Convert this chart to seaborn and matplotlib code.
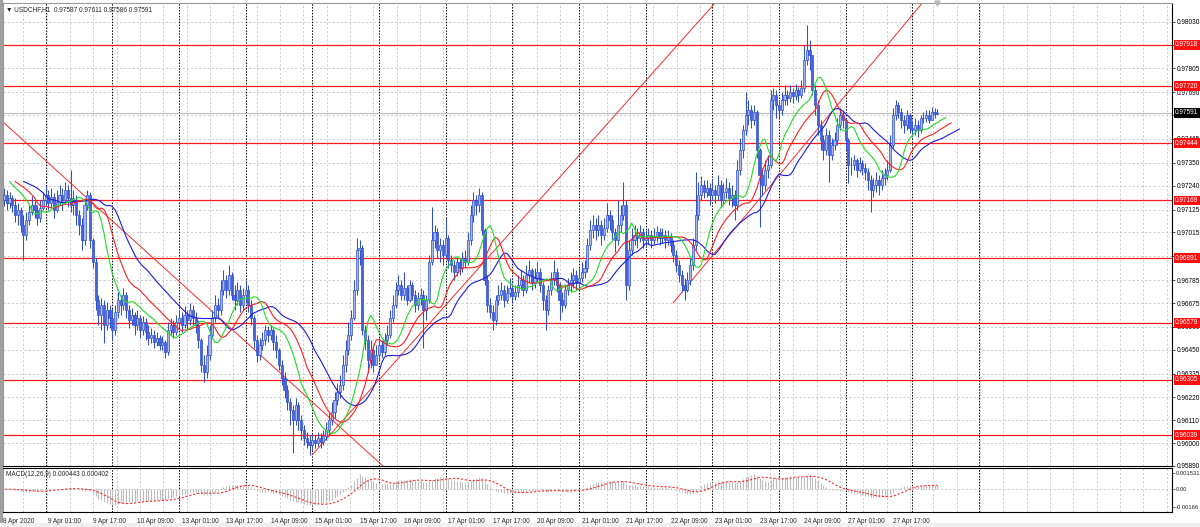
import numpy as np
import pandas as pd
import matplotlib
matplotlib.use("Agg")
import matplotlib.pyplot as plt
import matplotlib.transforms as mtransforms
from matplotlib.patches import Rectangle
import seaborn as sns

# ---------------- data (USDCHF H1, prices in 1e-5 units) ----------------
first_open = 97292
closes = [
    97171, 97195, 97157, 97181, 97147, 97099, 97123, 97051, 97003, 97075,
    97114, 97147, 97123, 97085, 97133, 97171, 97195, 97157, 97186, 97123,
    97162, 97195, 97171, 97220, 97181, 97147, 97171, 97099, 97051, 96979,
    97147, 97195, 96979, 96873, 96690, 96617, 96665, 96569, 96641, 96603,
    96545, 96632, 96690, 96665, 96714, 96641, 96593, 96617, 96569, 96603,
    96545, 96584, 96535, 96507, 96521, 96487, 96507, 96473, 96487, 96439,
    96545, 96569, 96535, 96584, 96603, 96569, 96617, 96593, 96641, 96603,
    96569, 96497, 96376, 96343, 96425, 96521, 96603, 96665, 96641, 96738,
    96786, 96738, 96810, 96714, 96690, 96738, 96665, 96714, 96738, 96665,
    96603, 96497, 96425, 96473, 96497, 96545, 96521, 96545, 96487, 96449,
    96376, 96314, 96256, 96198, 96161, 96111, 96184, 96111, 96063, 96025,
    96006, 95991, 96015, 96001, 96025, 96006, 96034, 96063, 96111, 96150,
    96208, 96246, 96280, 96376, 96449, 96521, 96603, 96738, 96930, 96940,
    96545, 96497, 96400, 96449, 96376, 96425, 96473, 96439, 96497, 96521,
    96603, 96665, 96738, 96762, 96714, 96747, 96690, 96762, 96714, 96665,
    96699, 96714, 96641, 96690, 96873, 96979, 97017, 96930, 96955, 96906,
    96988, 96882, 96858, 96825, 96873, 96844, 96892, 96873, 96979, 97099,
    97171, 97147, 97195, 97027, 96786, 96665, 96632, 96593, 96690, 96714,
    96738, 96690, 96723, 96747, 96709, 96728, 96762, 96786, 96738, 96810,
    96834, 96772, 96796, 96825, 96762, 96690, 96641, 96738, 96786, 96825,
    96762, 96690, 96665, 96738, 96762, 96786, 96810, 96772, 96796, 96825,
    96844, 96955, 97027, 97051, 97027, 97051, 97003, 97036, 97099, 97075,
    97017, 96979, 97051, 97099, 97147, 96762, 96930, 96979, 97003, 96988,
    97017, 96979, 96988, 97003, 96979, 96998, 97017, 96988, 97003, 96979,
    96993, 96955, 96906, 96858, 96810, 96762, 96738, 96786, 96858, 96955,
    97099, 97195, 97244, 97210, 97229, 97195, 97220, 97195, 97244, 97171,
    97210, 97229, 97181, 97195, 97147, 97316, 97412, 97509, 97581, 97605,
    97557, 97595, 97412, 97292, 97244, 97316, 97340, 97653, 97677, 97629,
    97605, 97653, 97677, 97663, 97692, 97672, 97701, 97677, 97711, 97846,
    97894, 97870, 97701, 97629, 97533, 97460, 97412, 97485, 97388, 97436,
    97460, 97533, 97581, 97557, 97460, 97340, 97340, 97364, 97316, 97350,
    97326, 97306, 97268, 97220, 97244, 97268, 97244, 97277, 97292, 97316,
    97436, 97581, 97629, 97595, 97557, 97533, 97581, 97518, 97509, 97533,
    97509, 97566, 97566, 97581, 97557, 97595, 97587, 97591,
]
highs = [
    97422, 97229, 97220, 97210, 97195, 97181, 97157, 97138, 97099, 97114,
    97147, 97191, 97171, 97147, 97171, 97210, 97239, 97220, 97229, 97205,
    97220, 97244, 97229, 97258, 97244, 97316, 97220, 97195, 97123, 97085,
    97181, 97220, 97210, 96988, 96892, 96714, 96699, 96690, 96680, 96665,
    96651, 96665, 96728, 96714, 96747, 96728, 96665, 96651, 96632, 96641,
    96617, 96613, 96603, 96569, 96555, 96545, 96535, 96521, 96516, 96497,
    96584, 96603, 96593, 96617, 96641, 96632, 96661, 96641, 96675, 96665,
    96632, 96593, 96507, 96425, 96473, 96569, 96641, 96714, 96699, 96786,
    96834, 96810, 96858, 96825, 96762, 96776, 96762, 96747, 96786, 96762,
    96690, 96617, 96521, 96507, 96535, 96569, 96564, 96569, 96555, 96521,
    96458, 96400, 96343, 96280, 96217, 96184, 96217, 96198, 96136, 96087,
    96054, 96039, 96044, 96039, 96054, 96049, 96063, 96102, 96150, 96198,
    96246, 96290, 96328, 96425, 96497, 96584, 96641, 96786, 96988, 96979,
    96955, 96569, 96521, 96497, 96473, 96473, 96507, 96497, 96531, 96569,
    96641, 96714, 96776, 96810, 96786, 96825, 96762, 96786, 96776, 96738,
    96728, 96747, 96738, 96714, 96906, 97138, 97051, 97036, 96988, 96979,
    97085, 97003, 96906, 96882, 96892, 96892, 96921, 96930, 97017, 97147,
    97210, 97195, 97229, 97210, 97036, 96810, 96699, 96665, 96714, 96762,
    96776, 96762, 96762, 96796, 96772, 96762, 96810, 96834, 96810, 96858,
    96882, 96844, 96844, 96873, 96844, 96776, 96714, 96762, 96825, 96882,
    96844, 96776, 96728, 96762, 96796, 96825, 96844, 96834, 96844, 96873,
    96882, 96988, 97075, 97099, 97085, 97099, 97075, 97085, 97157, 97123,
    97099, 97036, 97171, 97147, 97258, 97171, 96979, 97036, 97051, 97036,
    97051, 97036, 97027, 97036, 97027, 97036, 97046, 97036, 97036, 97027,
    97027, 97012, 96979, 96930, 96882, 96834, 96796, 96825, 96892, 96988,
    97306, 97258, 97287, 97268, 97268, 97253, 97268, 97244, 97292, 97268,
    97253, 97277, 97258, 97244, 97220, 97364, 97470, 97533, 97692, 97653,
    97629, 97629, 97605, 97422, 97326, 97364, 97388, 97701, 97711, 97701,
    97653, 97692, 97725, 97701, 97725, 97711, 97730, 97716, 97750, 97918,
    98015, 97942, 97870, 97725, 97653, 97557, 97485, 97518, 97509, 97470,
    97499, 97566, 97615, 97605, 97566, 97470, 97379, 97388, 97374, 97379,
    97364, 97350, 97326, 97292, 97277, 97306, 97292, 97316, 97326, 97364,
    97485, 97615, 97653, 97644, 97615, 97581, 97605, 97591, 97557, 97566,
    97557, 97581, 97595, 97605, 97605, 97620, 97615, 97611,
]
lows = [
    97099, 97143, 97123, 97133, 97114, 97066, 97051, 97017, 96882, 96979,
    97051, 97099, 97085, 97051, 97066, 97123, 97147, 97123, 97138, 97085,
    97114, 97147, 97123, 97157, 97138, 97114, 97099, 97051, 97003, 96930,
    96955, 97123, 96940, 96844, 96641, 96569, 96545, 96482, 96545, 96555,
    96497, 96521, 96603, 96617, 96641, 96603, 96555, 96569, 96521, 96545,
    96507, 96521, 96497, 96473, 96482, 96458, 96468, 96449, 96449, 96410,
    96425, 96521, 96507, 96521, 96555, 96535, 96555, 96545, 96569, 96564,
    96531, 96458, 96343, 96295, 96314, 96400, 96507, 96584, 96603, 96617,
    96714, 96699, 96714, 96690, 96641, 96665, 96632, 96641, 96680, 96632,
    96569, 96458, 96391, 96400, 96449, 96473, 96487, 96497, 96449, 96410,
    96352, 96280, 96217, 96161, 96087, 95953, 96087, 96063, 96015, 95991,
    95977, 95943, 95967, 95977, 95986, 95977, 95991, 96015, 96039, 96087,
    96121, 96184, 96217, 96256, 96343, 96425, 96497, 96593, 96714, 96858,
    96521, 96449, 96338, 96362, 96343, 96391, 96400, 96410, 96425, 96473,
    96507, 96584, 96651, 96714, 96690, 96690, 96665, 96680, 96690, 96632,
    96641, 96665, 96458, 96593, 96675, 96858, 96940, 96892, 96873, 96858,
    96892, 96844, 96825, 96786, 96805, 96810, 96825, 96844, 96858, 96955,
    97066, 97099, 97114, 97003, 96762, 96632, 96603, 96545, 96569, 96665,
    96690, 96656, 96675, 96704, 96680, 96690, 96704, 96738, 96709, 96723,
    96776, 96738, 96747, 96776, 96728, 96641, 96545, 96617, 96714, 96762,
    96728, 96593, 96632, 96651, 96714, 96728, 96747, 96738, 96747, 96776,
    96796, 96825, 96930, 96988, 96979, 96998, 96955, 96979, 97017, 97027,
    96979, 96921, 96955, 97017, 97075, 96690, 96738, 96906, 96955, 96940,
    96969, 96940, 96950, 96959, 96940, 96959, 96969, 96955, 96964, 96940,
    96955, 96921, 96873, 96825, 96776, 96728, 96690, 96728, 96762, 96834,
    96930, 97075, 97171, 97181, 97186, 97147, 97171, 97157, 97171, 97138,
    97147, 97181, 97147, 97138, 97075, 97123, 97292, 97374, 97485, 97533,
    97518, 97533, 97374, 97041, 97195, 97220, 97277, 97326, 97605, 97566,
    97566, 97581, 97629, 97629, 97644, 97639, 97653, 97644, 97663, 97692,
    97822, 97798, 97677, 97581, 97485, 97412, 97364, 97388, 97258, 97364,
    97412, 97436, 97509, 97518, 97412, 97253, 97292, 97316, 97282, 97306,
    97292, 97268, 97220, 97114, 97186, 97210, 97195, 97220, 97244, 97268,
    97306, 97422, 97557, 97566, 97518, 97494, 97509, 97494, 97475, 97485,
    97475, 97494, 97542, 97547, 97542, 97557, 97566, 97586,
]

# horizontal levels drawn on the chart and the current bid
levels = [0.97918, 0.97720, 0.97444, 0.97169, 0.96891, 0.96579, 0.96305, 0.96039]
bid = 0.97591
header = "\u25BC USDCHF,H1  0.97587 0.97611 0.97586 0.97591"
macd_header = "MACD(12,26,9) 0.000443 0.000402"

# price scale (right axis): grid values; labels hidden under level boxes are blank
price_ticks = [0.95890, 0.96000, 0.96110, 0.96220, 0.96335, 0.96450, 0.96560,
               0.96675, 0.96785, 0.96900, 0.97015, 0.97125, 0.97240, 0.97350,
               0.97465, 0.97580, 0.97690, 0.97805, 0.97918, 0.98030]
price_tick_labels = ["0.95890", "0.96000", "0.96110", "0.96220", "0.96335", "0.96450",
                     "0.96560", "0.96675", "0.96785", "", "0.97015", "0.97125",
                     "0.97240", "0.97350", "0.97465", "", "0.97690", "0.97805",
                     "", "0.98030"]
macd_ticks = [0.001531, 0.0, -0.00166]
macd_tick_labels = ["0.001531", "0.00", "-0.00166"]

# trend lines: (bar, price) anchor pairs
trend_lines = [
    [(-1.0, 0.97567), (138.0, 0.95883)],
    [(111.9, 0.95943), (257.5, 0.98128)],
    [(241.85, 0.96675), (332.0, 0.98127)],
]

# ---------------- build frame ----------------
n = len(closes)
hours = pd.date_range("2020-04-08 08:00", "2020-04-28 09:00", freq="h")
times = hours[hours.dayofweek < 5][:n]
df = pd.DataFrame({
    "t": times,
    "i": np.arange(n),
    "close": np.array(closes) / 1e5,
})
df["open"] = np.r_[first_open, closes[:-1]] / 1e5
df["high"] = np.maximum.reduce([np.array(highs) / 1e5, df["open"].values, df["close"].values])
df["low"] = np.minimum.reduce([np.array(lows) / 1e5, df["open"].values, df["close"].values])

# indicators (Alligator on median price, MACD 12/26/9)
median = (df["high"] + df["low"]) / 2


def smma(s, p):
    return s.ewm(alpha=1.0 / p, adjust=False).mean()


ema12 = df["close"].ewm(span=12, adjust=False).mean()
ema26 = df["close"].ewm(span=26, adjust=False).mean()
df["macd"] = ema12 - ema26
df["signal"] = df["macd"].rolling(9, min_periods=1).mean()

# ---------------- figure ----------------
sns.set_style("white")
plt.rcParams["font.family"] = ["Liberation Sans", "DejaVu Sans"]
FS = 4.7

W, H = 1200, 527
fig = plt.figure(figsize=(W / 100, H / 100), dpi=100)
fig.patch.set_facecolor("white")


def fx(px):
    return px / W


def fy(py):
    return 1 - py / H


# window frame (behind everything)
fig.patches.append(Rectangle((0, 0), fx(2), 1, transform=fig.transFigure,
                             color="#a0a0a0", zorder=-10))
fig.patches.append(Rectangle((0, 0), 1, fy(523), transform=fig.transFigure,
                             color="#f0f0f0", zorder=-10))

ax = fig.add_axes([fx(3), fy(466), fx(1172) - fx(3), fy(3) - fy(466)])
axm = fig.add_axes([fx(3), fy(511.5), fx(1172) - fx(3), fy(468) - fy(511.5)], sharex=ax)

px_per_bar = 2.7778
x0_px = 1.2
xlim = ((3 - x0_px) / px_per_bar, (1172 - x0_px) / px_per_bar)
ax.set_xlim(*xlim)
ax.set_ylim(0.95890, 0.98120)
axm.set_ylim(-0.00212, 0.00203)

grid_col = "#c4c4c4"
# vertical grid + day separators
vgrid = [(23.333 * k - x0_px) / px_per_bar for k in range(1, 51)]
day_starts = list(df.index[df["t"].dt.hour == 0])
day_starts.append(day_starts[-1] + 24)
for a in (ax, axm):
    for g in vgrid:
        a.axvline(g, color=grid_col, lw=0.6, ls=(0, (2.5, 2.5)), zorder=0.5)
    for s in day_starts:
        a.axvline(s, color="black", lw=0.7, ls=(0, (1.5, 1.5)), zorder=0.6)
for p in price_ticks:
    ax.axhline(p, color=grid_col, lw=0.6, ls=(0, (2.5, 2.5)), zorder=0.5)
axm.axhline(0.0, color=grid_col, lw=0.6, ls=(0, (2.5, 2.5)), zorder=0.5)

# bid line
ax.axhline(bid, color="#bdbdbd", lw=0.8, zorder=0.7)

# levels
for lv in levels:
    ax.axhline(lv, color="#ff1a1a", lw=0.9, zorder=1)

# trend lines
for (xa, ya), (xb, yb) in trend_lines:
    ax.plot([xa, xb], [ya, yb], color="#ff2a2a", lw=0.7, zorder=1.2)

# candles
edge = "#3050d0"
bull_fill = "#a8b6ee"
bear_fill = "#4562d6"
ax.vlines(df["i"], df["low"], df["high"], color=edge, lw=0.75, zorder=3)
body_lo = np.minimum(df["open"], df["close"])
body_h = np.maximum((df["close"] - df["open"]).abs(), 0.000012)
up = df["close"] >= df["open"]
ax.bar(df["i"][up], body_h[up], bottom=body_lo[up], width=0.75,
       color=bull_fill, edgecolor=edge, linewidth=0.5, zorder=4)
ax.bar(df["i"][~up], body_h[~up], bottom=body_lo[~up], width=0.75,
       color=bear_fill, edgecolor=edge, linewidth=0.5, zorder=4)

# Alligator lines (jaw blue 13/8, teeth red 8/5, lips lime 5/3)
for period, shift, col in [(13, 8, "#1c1ce0"), (8, 5, "#ff2020"), (5, 3, "#22dd22")]:
    sns.lineplot(x=df["i"] + shift, y=smma(median, period), ax=ax, color=col,
                 lw=0.8, estimator=None, zorder=5)

# chart-shift marker at the top border
ax.plot([n - 1], [0.98120], marker="v", ms=3.5, color="#b4b4b4", clip_on=False, zorder=6)

# MACD panel
axm.vlines(df["i"], 0, df["macd"], color="#bcbcbc", lw=0.8, zorder=2)
sns.lineplot(x=df["i"], y=df["signal"], ax=axm, color="#ff3030", lw=0.8,
             linestyle=(0, (2, 1.6)), estimator=None, zorder=3)

# ---------------- axes styling ----------------
for a in (ax, axm):
    a.set_xlabel("")
    a.set_ylabel("")
    a.yaxis.tick_right()
    for sp in a.spines.values():
        sp.set_color("black")
        sp.set_linewidth(0.8)
ax.spines["left"].set_color("#9a9a9a")
ax.spines["top"].set_color("#9a9a9a")
axm.spines["left"].set_color("#9a9a9a")

ax.set_yticks(price_ticks)
ax.set_yticklabels(price_tick_labels, fontsize=FS)
ax.tick_params(axis="y", length=2.5, width=0.5, pad=1.0, colors="black")
ax.tick_params(axis="x", bottom=False, labelbottom=False)

axm.set_yticks(macd_ticks)
axm.set_yticklabels(macd_tick_labels, fontsize=4.2)
axm.tick_params(axis="y", length=2.0, width=0.5, pad=0.8)

# date labels every 16 bars
lab_pos = [xlim[0] + 0.05]
lab_txt = [f"{df['t'].iloc[0].day} {df['t'].iloc[0]:%b %Y}"]
for k in range(17, n - 1, 16):
    t = df["t"].iloc[k]
    lab_pos.append(k)
    lab_txt.append(f"{t.day} {t:%b %H:%M}")
axm.set_xticks(lab_pos)
axm.set_xticklabels(lab_txt, fontsize=FS, ha="left")
axm.tick_params(axis="x", length=3, width=0.5, pad=1.5, direction="out")

# right-side labels for levels and bid
trans = mtransforms.blended_transform_factory(ax.transAxes, ax.transData)
for lv in levels:
    ax.text(1.0 + 3.0 / 1169, lv, f"{lv:.5f}", transform=trans, fontsize=FS,
            color="white", ha="left", va="center", clip_on=False, zorder=10,
            bbox=dict(boxstyle="square,pad=0.22", fc="#ff1010", ec="none"))
ax.text(1.0 + 3.0 / 1169, bid, f"{bid:.5f}", transform=trans, fontsize=FS,
        color="white", ha="left", va="center", clip_on=False, zorder=10,
        bbox=dict(boxstyle="square,pad=0.22", fc="black", ec="none"))

# headers
ax.text(3 / 1169, 1 - 3 / 463, header, transform=ax.transAxes, fontsize=FS,
        ha="left", va="top", zorder=10)
axm.text(3 / 1169, 1 - 3 / 43.5, macd_header, transform=axm.transAxes,
         fontsize=FS, ha="left", va="top", zorder=10)

fig.savefig("out.png", dpi=100, facecolor="white")
